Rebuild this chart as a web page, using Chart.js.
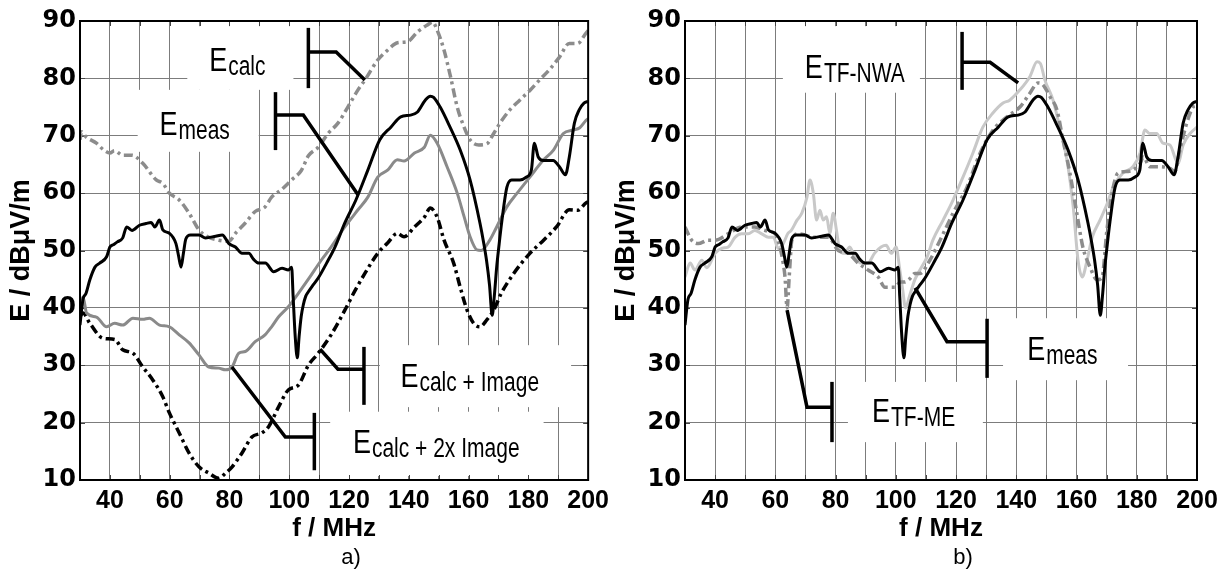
<!DOCTYPE html>
<html><head><meta charset="utf-8">
<script src="https://cdn.jsdelivr.net/npm/chart.js@4.4.1/dist/chart.umd.min.js"></script>
<style>
html,body{margin:0;padding:0;background:#fff;width:1231px;height:576px;overflow:hidden;}
#ca{position:absolute;left:0;top:0;}
#cb{position:absolute;left:605px;top:0;}
</style></head><body>
<canvas id="ca" width="615" height="576"></canvas>
<canvas id="cb" width="626" height="576"></canvas>
<script>
// ---------- data ----------
const xTickLabels = [40, 60, 80, 100, 120, 140, 160, 180, 200];
const yTickLabels = [10, 20, 30, 40, 50, 60, 70, 80, 90];

// E_meas (black solid, both panels)
const measF = [30,31,32,33.3,35,36.6,38.9,40,41.1,42.5,44.3,45.6,47.4,49.9,52.1,53.8,55,56.6,57.7,59.9,62.1,63,63.8,64.6,65.4,67,69.8,72,75.4,77.6,79.8,82,84.2,86.5,88,89.8,92,94.8,97.6,99.7,100.8,101.3,102,102.7,103.3,104,104.7,105.5,106.4,108,109.7,112.5,115.3,118.6,122.3,126.3,130.3,134,137.3,140.6,142.8,145.5,147.2,148.3,150.5,153.8,157.2,160.5,163.8,165,166,167,167.9,168.6,169.4,170.2,171.1,172.8,174.4,177.2,179.4,181,182,183.3,185,188.3,190.4,192.4,193.7,195.4,197,198.6,200];
const measE = [37,41.5,42.5,44.9,47.1,47.8,48.9,50.6,51,51.5,52.2,54.1,53.5,54.4,54.7,54.9,54.1,55.3,53.6,53,51.2,49,47.1,49.5,52,52.7,52.7,52.2,52.5,52.7,51.2,50.6,49.5,49.5,48.5,47.8,47.8,46.3,46.9,46.6,47.1,42,35,31.3,35,38.5,40.5,42,42.8,44,45.2,47.8,50.6,54.8,58.8,64,69.3,71.5,73.3,73.6,74.1,76.2,76.9,76.7,75,71.5,67.5,62.3,54.8,51.5,48.3,44,38.7,42,47.1,51,55,61,62.3,62.3,62.8,64,68.7,66.3,65.7,65.7,64.6,63.2,66.3,72.2,74.5,75.7,76];

// E_calc (grey dash-dot, panel a)
const calcF = [30,30.5,32,35.5,38,40,41.5,44.3,47.4,51,55.5,57.7,59.9,63.2,66.5,69.8,73.1,76.4,79.8,82,85.3,88.6,91.9,94.1,97.4,100.8,104.1,106.4,109.7,113,116.3,119.6,123,125.3,129.6,132.9,136.2,139.6,142.9,146.2,148,149.5,151.8,154,156.2,158.5,160.5,163.4,166.1,168.4,170.5,173.8,177.1,180.5,183.7,187,190.4,193.7,196.5,199.3,200];
const calcE = [69.3,70.7,69.8,68.7,67.5,67,67.4,66.6,66.6,65.2,62.3,61.7,60,58.8,56.5,53.6,52.3,51.8,51.6,53,54.8,56.8,57.6,59.3,60.6,62.3,64,66.5,68,70.4,72.2,75,78,79.7,83.2,84.9,86.2,86.4,88.1,89.3,89.8,88.4,84.9,80.2,75,71.5,69.3,68.4,68.6,70.4,72.2,74.5,76.2,77.9,79.7,81.5,83.7,86.1,86.1,87.9,88.3];

// E_calc + Image (grey solid, panel a)
const imgF = [30,31,32.2,35.5,38.9,41.6,44.3,47.7,51,53.2,56.6,59.9,63.2,66.5,69.8,73.1,76.4,78.7,80.9,83.1,85.3,88.6,91.9,94.1,96.4,99.7,103,106.4,110.7,114,118.6,123,126.3,129.6,132.9,136.2,138.4,141.9,145.2,147.2,149.5,152.8,156.2,158.5,160.5,162.8,164.2,167.1,169.4,172.8,176.1,180.5,185.1,188.4,191.7,195,197.2,199.3,200];
const imgE = [40.8,41.9,39.1,38.4,36.7,37.3,37,38.2,38,38.2,37,36.7,35.3,33.9,31.8,29.7,29.5,29.2,29.7,32.1,32.4,34.1,35.3,36.7,38.4,40.2,42.5,45,48.3,50.6,54.1,57.1,59.3,62.8,64,65.8,65.6,67,68,70.1,68.7,64.6,60,55.9,52.4,50.1,50,51.8,54.1,57.6,59.9,62.8,65.8,67.5,70.4,71,71.4,72.7,73];

// E_calc + 2x Image (black dash-dot, panel a)
const img2F = [30,31,33.3,37.7,41.6,44.3,47.7,51,54.4,57.7,59.9,63.2,66.5,69.8,73.1,76.4,78.7,80.9,84.2,87.5,90.8,93.1,96.4,99.7,103,106.4,109.7,114,118.6,122,125.3,129.6,132.9,136.2,138.4,141.9,145.2,147.2,149.5,151.8,155,157.2,159.5,161.7,163.8,166.1,168.4,171,175.1,180.5,185.1,189.4,193.7,196.5,199.3,200];
const img2E = [38.5,39.1,37.3,34.7,34.5,32.7,32.1,29.7,27.4,24.5,21.7,18.2,14.7,12.3,11.2,10.3,11.2,12.3,14.7,17.5,18.2,19.3,22.7,25.7,26.5,30,32.1,35.3,39.6,43,46,49.5,51.3,53,52.4,54.1,55.8,57.4,55.8,51.8,47.8,43.6,39.6,37.3,36.7,37.9,39.6,42.6,46,49.5,51.8,54.1,57.1,57,58.3,58.5];

// E_TF-NWA (light grey solid, panel b)
const nwaF = [30,31.7,33.3,35.6,37.2,40,42.3,44.3,46.6,48.8,51,53.2,55.5,57.7,59.4,60.9,62.6,64.2,65.3,67.2,68.8,70.5,71.5,72.6,73.7,74.8,75.9,77,78.1,79.2,80.3,81.4,83,84.7,86.3,88.5,90.7,92.9,95.1,96.8,98.5,100.1,101.2,102.3,103.2,104.5,106.4,108,110.4,112.3,115.7,119,122.3,125.6,128.9,132.3,135.6,137.8,141.2,144.5,146.9,148,149.5,152.2,154.6,156.8,158.9,160.5,161.9,163.5,165.2,167.8,170.2,172.2,175.4,178.7,181.1,182.7,184.3,186.6,188.7,191,193.7,195.4,197.7,200];
const nwaE = [45.4,47.8,46.6,48.3,47,49.5,50.4,50.6,52.3,52.9,52.9,53.5,52.9,52.3,52.3,50.4,51.2,53,53.5,55.3,56.5,59.3,62.3,60,55.3,57,55.3,55.9,53,56.5,53.5,50,49.5,50.6,48.9,47.8,47.8,49.5,50.6,50.9,49.5,50.6,47.1,43.1,40,42,45,46.6,48.9,51.8,55.3,58.8,62.8,67,71.5,74,75.7,76.2,78,80.3,82.9,82.6,79.7,76.2,71,65.8,57.6,48.3,45.4,48.3,52.3,55.3,58.2,61.1,63.5,64.6,67,71,70.4,70.4,68.7,68.4,65.2,68.4,70.4,71.5];

// E_TF-ME (grey dash-dot, panel b)
const meF = [30,32.2,34.4,37.7,40,44.3,48.8,53.2,56.6,59.9,61.5,62.6,63.2,63.9,64.6,65.5,67.7,73.2,77.6,80.9,84.2,87.5,90.8,94.1,96.4,99.7,101.5,103,104.5,106.4,108,111.3,114.7,119,123.6,128,132.3,136.9,141.2,144.5,147.2,148.8,151.2,153.5,155.5,157.8,160.1,162.1,164.5,166.8,168.4,170.1,171.8,173.8,177.6,181.1,182.2,184.3,187.7,191,192.7,194.3,196.6,198.7,200];
const meE = [54.1,51.8,51.2,51.8,51.8,52.9,54.1,54.1,53.5,52.9,50.6,47.8,45.4,40,45.4,51.8,52.9,52.3,52.3,50,49.5,47.8,46.6,45.4,43.6,43.6,44.5,44.5,45,46,46,48.3,51.8,56.5,61,67,71,73.3,75,77.4,79.2,78.9,76.8,74.5,69.3,63.5,56.5,50.6,47.1,44.9,45.2,53.6,60,63.5,63.8,65.2,66.3,64.6,64.6,64.3,63.8,67.5,72.2,75,75.3];

// ---------- annotations (data units) ----------
const annA = [
  {main:'E', sub:'calc', tx:73.2, ty:81.3, box:[65.9,101.4,89.1,78.0], bar:[106.4,88.8,78.3], path:[[106.4,84.6],[115.7,84.6],[125.3,79.7]]},
  {main:'E', sub:'meas', tx:56.6, ty:70.1, box:[49.3,89.8,78.0,67.2], bar:[95.4,77.6,67.5], path:[[95.4,73.6],[104.7,73.6],[123,59.7]]},
  {main:'E', sub:'calc + Image', tx:137.2, ty:26.2, box:[130.3,194.3,33.5,22.7], bar:[125,33.2,23.1], path:[[125,29.3],[116.3,29.3],[110.3,32.8]]},
  {main:'E', sub:'calc + 2x Image', tx:121.3, ty:14.7, box:[113.7,185.1,21.9,10.7], bar:[108.4,21.7,11.7], path:[[108.4,17.5],[98.7,17.5],[80.8,29.7]]}
];
const annB = [
  {main:'E', sub:'TF-NWA', tx:69.8, ty:80.1, box:[62.5,108,89.1,77.5], bar:[122,88.1,78], path:[[122,82.8],[131.3,82.8],[140.6,79.2]]},
  {main:'E', sub:'TF-ME', tx:92.1, ty:20.1, box:[84.1,128.9,27.1,16.6], bar:[78.8,27.1,16.6], path:[[78.8,22.7],[70.5,22.7],[63.9,39.6]]},
  {main:'E', sub:'meas', tx:143.6, ty:30.9, box:[135.6,177.1,38.2,27.4], bar:[130.3,38.1,27.8], path:[[130.3,34.1],[117,34.1],[106.4,43.5]]}
];

const pts = (F, E) => F.map((f, i) => ({x: f, y: E[i]}));
const FONT = 'Arial, "Liberation Sans", Helvetica, sans-serif';

function drawLabel(ctx, px, py, main, sub) {
  ctx.save();
  ctx.fillStyle = '#000';
  ctx.textAlign = 'left';
  ctx.textBaseline = 'alphabetic';
  ctx.font = '27px ' + FONT;
  const w = ctx.measureText(main).width;
  ctx.translate(px, py); ctx.scale(1, 1.2); ctx.fillText(main, 0, 0);
  ctx.restore();
  ctx.save();
  ctx.fillStyle = '#000';
  ctx.textAlign = 'left';
  ctx.textBaseline = 'alphabetic';
  ctx.font = '21px ' + FONT;
  ctx.translate(px + w + 1, py + 4); ctx.scale(1, 1.3); ctx.fillText(sub, 0, 0);
  ctx.restore();
}

const decor = {
  id: 'decor',
  beforeDatasetsDraw(chart, args, opts) {
    const {ctx, chartArea: ca, scales: {x, y}} = chart;
    ctx.save();
    ctx.fillStyle = '#fff';
    for (const a of opts.ann) {
      const px0 = x.getPixelForValue(a.box[0]), px1 = x.getPixelForValue(a.box[1]);
      const py0 = y.getPixelForValue(a.box[2]), py1 = y.getPixelForValue(a.box[3]);
      ctx.fillRect(px0, py0, px1 - px0, py1 - py0);
    }
    // inward tick marks on all four sides
    ctx.strokeStyle = '#444'; ctx.lineWidth = 1;
    ctx.beginPath();
    for (const t of x.ticks) {
      const p = Math.round(x.getPixelForValue(t.value)) + 0.5;
      ctx.moveTo(p, ca.bottom); ctx.lineTo(p, ca.bottom - 5);
      ctx.moveTo(p, ca.top); ctx.lineTo(p, ca.top + 5);
    }
    for (const t of y.ticks) {
      const p = Math.round(y.getPixelForValue(t.value)) + 0.5;
      ctx.moveTo(ca.left, p); ctx.lineTo(ca.left + 5, p);
      ctx.moveTo(ca.right, p); ctx.lineTo(ca.right - 5, p);
    }
    ctx.stroke();
    ctx.restore();
  },
  afterDatasetsDraw(chart, args, opts) {
    const {ctx, chartArea: ca, scales: {x, y}} = chart;
    ctx.save();
    ctx.strokeStyle = '#000'; ctx.lineWidth = 2;
    ctx.strokeRect(ca.left, ca.top, ca.right - ca.left, ca.bottom - ca.top);
    ctx.lineWidth = 3.5; ctx.lineJoin = 'miter'; ctx.lineCap = 'butt';
    for (const a of opts.ann) {
      ctx.beginPath();
      a.path.forEach((p, i) => {
        const px = x.getPixelForValue(p[0]), py = y.getPixelForValue(p[1]);
        if (i === 0) ctx.moveTo(px, py); else ctx.lineTo(px, py);
      });
      ctx.stroke();
      ctx.beginPath();
      const bx = x.getPixelForValue(a.bar[0]);
      ctx.moveTo(bx, y.getPixelForValue(a.bar[1]));
      ctx.lineTo(bx, y.getPixelForValue(a.bar[2]));
      ctx.stroke();
      drawLabel(ctx, x.getPixelForValue(a.tx), y.getPixelForValue(a.ty), a.main, a.sub);
    }
    ctx.fillStyle = '#000';
    ctx.font = '22px ' + FONT;
    ctx.textAlign = 'center'; ctx.textBaseline = 'middle';
    ctx.fillText(opts.letter, opts.letterX, 558);
    ctx.restore();
  }
};

function makeChart(id, datasets, ann, letter, letterX, padRight) {
  return new Chart(document.getElementById(id), {
    type: 'line',
    data: {datasets},
    options: {
      responsive: false, animation: false, events: [],
      layout: {padding: {left: 0, right: padRight, top: 21, bottom: 0}},
      elements: {point: {radius: 0}, line: {tension: 0.4, cubicInterpolationMode: 'monotone', borderJoinStyle: 'round'}},
      plugins: {legend: {display: false}, tooltip: {enabled: false},
        decor: {ann, letter, letterX}},
      scales: {
        x: {
          type: 'linear', min: 30, max: 200,
          afterFit: s => { s.height = 96; },
          ticks: {stepSize: 10, autoSkip: false, maxRotation: 0, minRotation: 0, padding: 6,
            color: '#000', font: {family: FONT, size: 25, weight: 'bold'},
            callback: v => xTickLabels.includes(v) ? String(v) : ''},
          grid: {color: '#7c7c7c', lineWidth: 1, drawTicks: false},
          border: {display: false},
          title: {display: true, text: 'f / MHz', color: '#000',
            font: {family: FONT, size: 26, weight: 'bold'}, padding: {top: 0, bottom: 32}}
        },
        y: {
          type: 'linear', min: 10, max: 90,
          afterFit: s => { s.width = 80; },
          ticks: {stepSize: 10, autoSkip: false, padding: 4, color: '#000',
            font: {family: '"DejaVu Sans", sans-serif', size: 24, weight: 'bold'},
            callback: v => yTickLabels.includes(v) ? String(v) : ''},
          grid: {color: '#7c7c7c', lineWidth: 1, drawTicks: false},
          border: {display: false},
          title: {display: true, text: 'E / dBμV/m', color: '#000',
            font: {family: FONT, size: 27, weight: 'bold'}, padding: {top: 5, bottom: 0}}
        }
      }
    },
    plugins: [decor]
  });
}

const DASH = [9, 4, 3, 4];
makeChart('ca', [
  {data: pts(measF, measE), borderColor: '#000', borderWidth: 3},
  {data: pts(imgF, imgE), borderColor: '#8a8a8a', borderWidth: 3},
  {data: pts(img2F, img2E), borderColor: '#000', borderWidth: 3.5, borderDash: DASH},
  {data: pts(calcF, calcE), borderColor: '#8c8c8c', borderWidth: 3.5, borderDash: DASH}
], annA, 'a)', 351, 23);

makeChart('cb', [
  {data: pts(measF, measE), borderColor: '#000', borderWidth: 3},
  {data: pts(meF, meE), borderColor: '#8c8c8c', borderWidth: 3.5, borderDash: DASH},
  {data: pts(nwaF, nwaE), borderColor: '#c8c8c8', borderWidth: 3}
], annB, 'b)', 358, 34);
</script></body></html>
